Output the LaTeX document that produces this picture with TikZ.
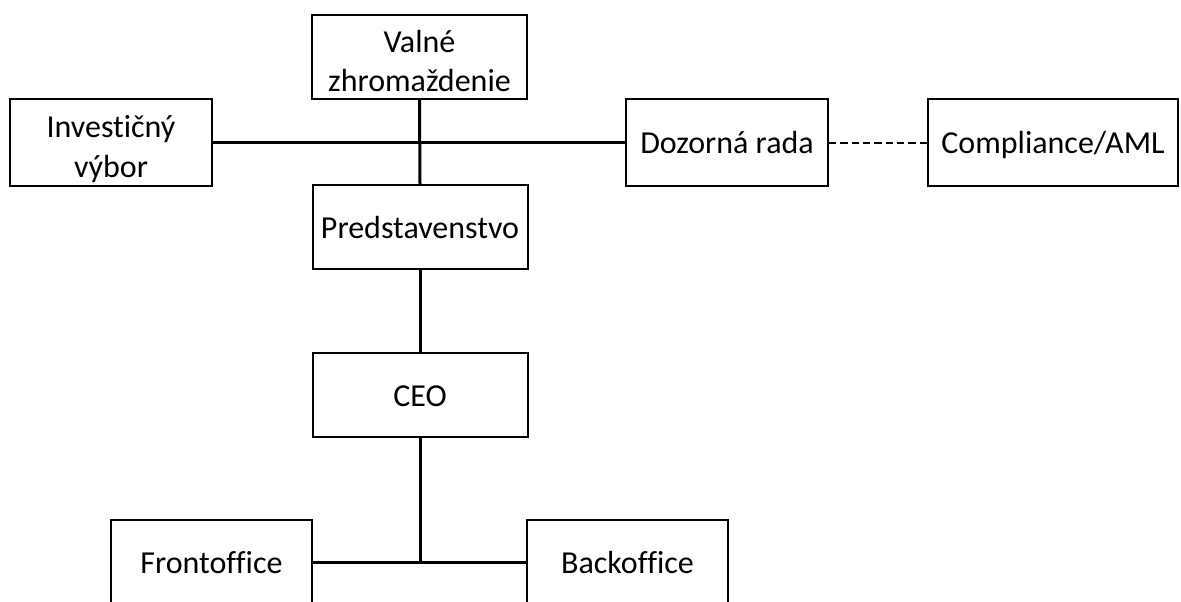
\documentclass[tikz,border=0pt]{standalone}
\usepackage{fontspec}
\setmainfont{Carlito}[Ligatures=NoCommon]

\tikzset{every picture/.style={line width=0.75pt}}
\tikzset{orgbox/.style={draw, line width=1.5pt, align=center, inner sep=0.75pt, font=\fontsize{24}{29.5}\selectfont, text height=17pt, text depth=0pt},
  twoline/.style={text height=52pt},
  link/.style={line width=2.25pt},
  dashlink/.style={line width=1.5pt, dash pattern={on 5.5pt off 3pt}}}

\begin{document}
\begin{tikzpicture}[x=0.75pt,y=0.75pt,yscale=-1,xscale=1]
\useasboundingbox (0,0) rectangle (1181,601);

% Boxes
\node [orgbox, twoline, minimum width=161.25pt, minimum height=63pt] (valne) at (419.5,57) {Valné\\zhromaždenie};
\node [orgbox, twoline, minimum width=151.5pt, minimum height=65.25pt] (invest) at (111,142.5) {Investičný\\výbor};
\node [orgbox, minimum width=151.5pt, minimum height=65.25pt] (dozor) at (727,142.5) {Dozorná rada};
\node [orgbox, minimum width=187.5pt, minimum height=65.25pt] (compl) at (1053,142.5) {Compliance/AML};
\node [orgbox, minimum width=161.25pt, minimum height=63pt] (pred) at (420,227) {Predstavenstvo};
\node [orgbox, minimum width=161.25pt, minimum height=63pt] (ceo) at (420,395) {CEO};
\node [orgbox, minimum width=150.75pt, minimum height=63pt] (front) at (211.5,562) {Frontoffice};
\node [orgbox, minimum width=150.75pt, minimum height=63pt] (back) at (627.5,562) {Backoffice};

% Connectors
\draw [link] (valne.south) -- (pred.north);
\draw [link] (invest.east) -- (dozor.west);
\draw [dashlink] (dozor.east) -- (compl.west);
\draw [link] (pred.south) -- (ceo.north);
\draw [link] (ceo.south) -- (ceo.south |- front.east);
\draw [link] (front.east) -- (back.west);

\end{tikzpicture}
\end{document}
